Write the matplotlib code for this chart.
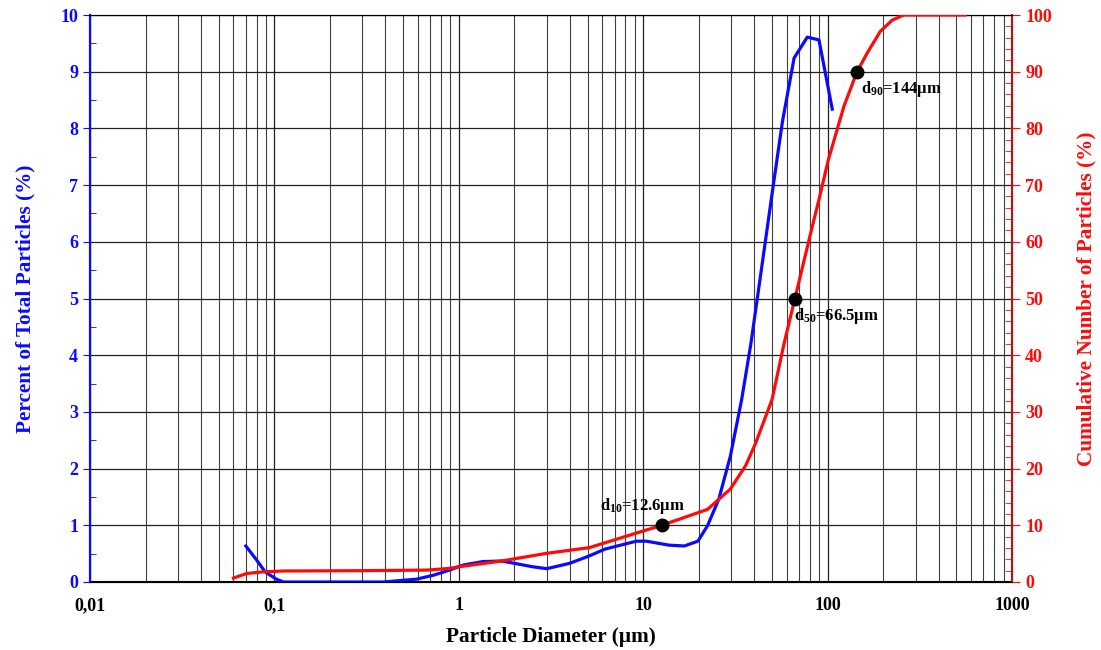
import matplotlib
matplotlib.use('Agg')
import matplotlib.pyplot as plt
from matplotlib.ticker import MultipleLocator, NullFormatter

plt.rcParams['font.family'] = ['Liberation Serif', 'DejaVu Serif']
plt.rcParams['font.weight'] = 'bold'
plt.rcParams['mathtext.fontset'] = 'custom'
plt.rcParams['mathtext.rm'] = 'Liberation Serif:bold'
plt.rcParams['mathtext.it'] = 'Liberation Serif:bold'
plt.rcParams['mathtext.bf'] = 'Liberation Serif:bold'

# particle size distribution (percent of total)
size_freq = [0.07, 0.08, 0.089, 0.1025, 0.112, 0.2, 0.39, 0.59, 0.73, 0.89, 1.06, 1.35,
             1.7, 2.0, 2.5, 3.0, 4.0, 5.1, 6.2, 8.2, 9.2, 10.4, 13.8, 16.7, 19.8, 22.3,
             25.7, 29.7, 34.2, 38.4, 45.3, 50.2, 56.9, 65.8, 77.6, 89.8, 106]
freq = [0.635, 0.39, 0.18, 0.05, 0.0, 0.0, 0.0, 0.05, 0.12, 0.21, 0.30, 0.36,
        0.37, 0.33, 0.27, 0.235, 0.33, 0.46, 0.58, 0.68, 0.72, 0.72, 0.65, 0.635, 0.72, 0.99,
        1.46, 2.22, 3.22, 4.21, 5.86, 6.89, 8.12, 9.24, 9.61, 9.56, 8.34]

# cumulative number of particles
size_cum = [0.06, 0.0707, 0.0872, 0.112, 0.3, 0.67, 0.89, 1.01, 1.7, 3.0, 5.1, 7.1, 10,
            12.6, 22.3, 29.7, 35.9, 40.5, 50, 58.1, 66.5, 80.9, 89.7, 101, 122.6, 144,
            164, 193, 224, 259, 557]
cum = [0.7, 1.5, 1.8, 1.94, 2.0, 2.1, 2.4, 2.7, 3.7, 5.06, 6.06, 7.5, 9.0,
       10.0, 12.8, 16.4, 20.5, 24.3, 32.2, 42.1, 50, 61.5, 67.4, 74.5, 83.9, 89.9,
       93.3, 97.1, 99.1, 100, 100]

# characteristic diameters
d_vals = [12.6, 66.5, 144]
d_pct = [10, 50, 90]

x_ticks = [0.01, 0.1, 1, 10, 100, 1000]
x_ticklabels = ['0,01', '0,1', '1', '10', '100', '1000']

fig = plt.figure(figsize=(11.01, 6.5), dpi=100)
ax = fig.add_axes([90 / 1101, 68 / 650, 922 / 1101, 567 / 650])
ax2 = ax.twinx()

ax.set_xscale('log')
ax.set_xlim(0.01, 1000)
ax.set_ylim(0, 10)
ax2.set_ylim(0, 100)

# grid
ax.grid(True, which='major', axis='both', color='#202020', lw=0.9)
ax.grid(True, which='minor', axis='x', color='#404040', lw=0.8)
ax.set_axisbelow(True)

ax.plot(size_freq, freq, color='#0a0aff', lw=2.3, zorder=3)
ax2.plot(size_cum, cum, color='#ff0a0a', lw=2.3, zorder=3)
ax2.plot(d_vals, d_pct, 'o', color='black', ms=9, zorder=4)

ax2.text(d_vals[0] * 0.79, 11.6, r'd$_{10}$=12.6µm', ha='center', va='bottom', fontsize=12)
ax2.text(d_vals[1] * 0.99, 48.6, r'd$_{50}$=66.5µm', ha='left', va='top', fontsize=12)
ax2.text(d_vals[2] * 1.06, 88.8, r'd$_{90}$=144µm', ha='left', va='top', fontsize=12)

ax.set_xticks(x_ticks)
ax.set_xticklabels(x_ticklabels)
ax.xaxis.set_minor_formatter(NullFormatter())
ax.tick_params(axis='x', which='both', length=0, labelsize=13, pad=11)

ax.yaxis.set_major_locator(MultipleLocator(1))
ax.yaxis.set_minor_locator(MultipleLocator(0.5))
ax.tick_params(axis='y', which='major', colors='#0a0aff', labelsize=13, length=5, direction='out')
ax.tick_params(axis='y', which='minor', colors='#0a0aff', length=4, direction='in')

ax2.yaxis.set_major_locator(MultipleLocator(10))
ax2.yaxis.set_minor_locator(MultipleLocator(2))
ax2.tick_params(axis='y', which='major', colors='#ff0a0a', labelsize=13, length=6, direction='out')
ax2.tick_params(axis='y', which='minor', colors='#ff0a0a', length=5, direction='in')

ax.spines['left'].set_color('#0a0aff')
ax.spines['left'].set_linewidth(1.5)
ax2.spines['left'].set_color('#0a0aff')
ax2.spines['left'].set_linewidth(1.5)
ax2.spines['right'].set_color('#c01010')
ax2.spines['right'].set_linewidth(1.5)
ax.spines['bottom'].set_linewidth(1.5)

ax.set_xlabel('Particle Diameter (µm)', fontsize=15.3, fontweight='bold', labelpad=9)
ax.set_ylabel('Percent of Total Particles (%)', fontsize=15.3, fontweight='bold',
              color='#0a0aff', labelpad=18)
ax2.set_ylabel('Cumulative Number of Particles (%)', fontsize=15.3, fontweight='bold',
               color='#ff0a0a', labelpad=18)

fig.savefig('out.png', dpi=100)
